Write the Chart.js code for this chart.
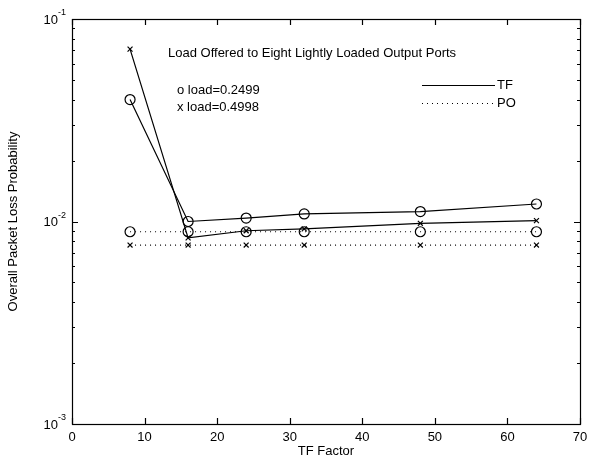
<!DOCTYPE html>
<html>
<head>
<meta charset="utf-8">
<script src="https://cdn.jsdelivr.net/npm/chart.js@4.4.0/dist/chart.umd.min.js"></script>
<style>
  html, body { margin: 0; padding: 0; background: #fff; }
  #wrap { width: 594px; height: 465px; }
</style>
</head>
<body>
<div id="wrap"><canvas id="lossChart" width="594" height="465"></canvas></div>
<script>
// TF factor values on the x axis
const tfFactors = [8, 16, 24, 32, 48, 64];
// packet loss, TF scheme
const tfLoad2499 = [0.040, 0.0100, 0.0104, 0.0109, 0.0112, 0.0122];
const tfLoad4998 = [0.071, 0.0083, 0.0090, 0.0092, 0.0098, 0.0101];
// packet loss, PO scheme
const poLoad2499 = [0.0089, 0.0089, 0.0089, 0.0089, 0.0089, 0.0089];
const poLoad4998 = [0.00765, 0.00765, 0.00765, 0.00765, 0.00765, 0.00765];
const xTicks = [0, 10, 20, 30, 40, 50, 60, 70];
const yDecades = [-3, -2, -1];

const FONT = 'Liberation Sans, Arial, Helvetica, sans-serif';

const pts = (ys) => tfFactors.map((x, i) => ({ x, y: ys[i] }));

const makeSet = (label, ys, marker, dotted) => ({
    label,
    data: pts(ys),
    borderColor: '#000',
    borderWidth: 1.2,
    borderDash: dotted ? [1, 4] : [],
    pointStyle: marker,
    pointRadius: marker === 'circle' ? 5 : 3.5,
    pointBorderColor: '#000',
    pointBackgroundColor: 'rgba(0,0,0,0)',
    pointBorderWidth: 1.2,
    fill: false,
    tension: 0
});

// box, inward ticks, y labels with superscripts, annotations
const matlabAxes = {
    id: 'matlabAxes',
    afterDraw(chart) {
        const { ctx, chartArea: a, scales } = chart;
        const xs = scales.x, ys = scales.y;
        ctx.save();
        ctx.strokeStyle = '#000';
        ctx.lineWidth = 1.2;
        ctx.strokeRect(a.left + 0.5, a.top + 0.5, a.right - a.left, a.bottom - a.top);

        ctx.beginPath();
        xTicks.forEach(v => {
            const px = Math.round(xs.getPixelForValue(v)) + 0.5;
            ctx.moveTo(px, a.bottom); ctx.lineTo(px, a.bottom - 6);
            ctx.moveTo(px, a.top); ctx.lineTo(px, a.top + 6);
        });
        for (let d = -3; d <= -1; d++) {
            for (let m = 1; m <= 9; m++) {
                if (d === -1 && m > 1) break;
                const py = Math.round(ys.getPixelForValue(m * Math.pow(10, d))) + 0.5;
                const len = m === 1 ? 6 : 3;
                ctx.moveTo(a.left, py); ctx.lineTo(a.left + len, py);
                ctx.moveTo(a.right, py); ctx.lineTo(a.right - len, py);
            }
        }
        ctx.stroke();

        // y tick labels 10^n
        ctx.fillStyle = '#000';
        ctx.textBaseline = 'middle';
        yDecades.forEach(d => {
            const py = ys.getPixelForValue(Math.pow(10, d));
            ctx.font = '13px ' + FONT;
            ctx.textAlign = 'left';
            const baseW = ctx.measureText('10').width;
            ctx.font = '9px ' + FONT;
            const expW = ctx.measureText(String(d)).width;
            const x0 = a.left - 6 - baseW - expW;
            ctx.font = '13px ' + FONT;
            ctx.fillText('10', x0, py + 1);
            ctx.font = '9px ' + FONT;
            ctx.fillText(String(d), x0 + baseW, py - 6);
        });

        // annotations
        ctx.font = '13px ' + FONT;
        ctx.textAlign = 'left';
        ctx.fillText('Load Offered to Eight Lightly Loaded Output Ports', 168, 53);
        ctx.fillText('o load=0.2499', 177, 90);
        ctx.fillText('x load=0.4998', 177, 107);

        // legend
        ctx.beginPath();
        ctx.moveTo(422, 85.5); ctx.lineTo(495, 85.5);
        ctx.stroke();
        ctx.setLineDash([1, 4]);
        ctx.beginPath();
        ctx.moveTo(422, 103.5); ctx.lineTo(495, 103.5);
        ctx.stroke();
        ctx.setLineDash([]);
        ctx.fillText('TF', 497, 85);
        ctx.fillText('PO', 497, 103);
        ctx.restore();
    }
};

new Chart(document.getElementById('lossChart'), {
    type: 'line',
    data: {
        datasets: [
            makeSet('TF o', tfLoad2499, 'circle', false),
            makeSet('TF x', tfLoad4998, 'crossRot', false),
            makeSet('PO o', poLoad2499, 'circle', true),
            makeSet('PO x', poLoad4998, 'crossRot', true)
        ]
    },
    options: {
        responsive: false,
        animation: false,
        layout: { padding: { top: 19, right: 14, left: 0, bottom: 6 } },
        plugins: { legend: { display: false }, tooltip: { enabled: false } },
        scales: {
            x: {
                type: 'linear',
                min: 0, max: 70,
                afterBuildTicks: (s) => { s.ticks = xTicks.map(v => ({ value: v })); },
                grid: { display: false, drawTicks: false },
                border: { display: false },
                ticks: { color: '#000', font: { family: FONT, size: 13 }, padding: 6, maxRotation: 0 },
                title: { display: true, text: 'TF Factor', color: '#000', font: { family: FONT, size: 13 }, padding: { top: 0, bottom: 0 } },
                afterFit: (s) => { s.height = 35; }
            },
            y: {
                type: 'logarithmic',
                min: 0.001, max: 0.1,
                grid: { display: false, drawTicks: false },
                border: { display: false },
                ticks: { display: false },
                title: { display: true, text: 'Overall Packet Loss Probability', color: '#000', font: { family: FONT, size: 13 }, padding: { top: 6, bottom: 0 } },
                afterFit: (s) => { s.width = 72; }
            }
        }
    },
    plugins: [matlabAxes]
});
</script>
</body>
</html>
